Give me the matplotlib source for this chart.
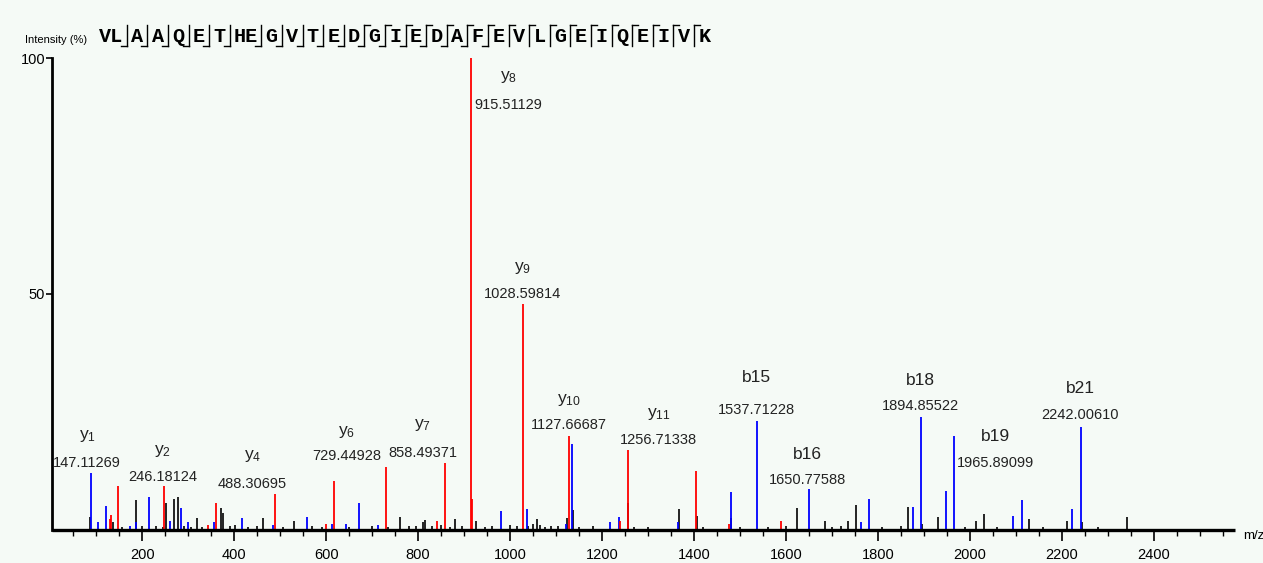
import matplotlib
matplotlib.use('Agg')
import matplotlib.pyplot as plt
from matplotlib.lines import Line2D
from matplotlib.ticker import MultipleLocator

plt.rcParams['font.family'] = ['Liberation Sans', 'DejaVu Sans']
plt.rcParams['mathtext.fontset'] = 'custom'
plt.rcParams['mathtext.rm'] = 'Liberation Sans'
plt.rcParams['mathtext.it'] = 'Liberation Sans'

# --- data ---
y_mz = [130, 132, 147.11, 246.18, 343, 360, 488.31, 600, 618, 729.45, 841,
        858.49, 915.51, 918, 1028.60, 1127.67, 1240, 1256.71, 1404, 1476, 1589.6]
y_int = [2.2, 3.1, 9.2, 9.2, 1.0, 5.6, 7.5, 1.2, 10.2, 13.2, 1.9,
         14.2, 100, 6.5, 47.8, 19.9, 1.9, 16.9, 12.5, 1.2, 1.7]

b_mz = [87.6, 104, 121, 173, 187, 214.5, 260, 284, 300, 356, 417, 484, 558,
        613, 642.5, 671.5, 713, 980, 1036, 1121, 1135, 1218, 1238, 1365, 1480,
        1537.71, 1650.78, 1763, 1780, 1876, 1894.86, 1948, 1965.89, 2095, 2114,
        2223, 2242.01]
b_int = [11.9, 1.5, 5.0, 0.8, 1.5, 6.8, 1.9, 4.5, 1.5, 1.5, 2.5, 1.0, 2.6,
         1.2, 1.2, 5.6, 1.0, 4.0, 4.3, 1.2, 18.2, 1.5, 2.6, 1.5, 7.9,
         23.1, 8.5, 1.5, 6.5, 4.8, 23.8, 8.2, 19.9, 2.9, 6.3,
         4.3, 21.8]

other_mz = [86, 137, 155, 186, 200, 230, 245, 251.5, 269, 277.6, 290, 305, 318,
            330, 371, 376, 390, 402, 430, 450, 463, 505, 530, 570, 590, 650,
            700, 735, 760.6, 780, 795, 810, 815, 830, 850, 870, 880, 895, 926,
            945, 960, 1000, 1015, 1040, 1049, 1058, 1065, 1075, 1090, 1105,
            1123, 1136, 1150, 1180, 1257.5, 1270, 1300, 1367, 1406, 1420, 1481,
            1500, 1560, 1600, 1624, 1685, 1700, 1720, 1735, 1753, 1810, 1850,
            1866.6, 1896.5, 1930, 1990, 2013, 2031, 2060, 2129, 2160, 2212,
            2245, 2280, 2342]
other_int = [2.6, 1.5, 0.6, 6.3, 0.8, 0.8, 0.6, 5.6, 6.5, 6.8, 0.8, 0.6, 2.5,
             0.5, 4.5, 3.4, 0.7, 1.0, 0.6, 0.8, 2.5, 0.6, 1.9, 0.8, 0.6, 0.6,
             0.7, 0.6, 2.6, 0.8, 0.7, 1.6, 2.0, 0.8, 1.0, 0.6, 2.2, 0.8, 1.9,
             0.6, 0.8, 1.0, 0.7, 0.8, 1.2, 2.2, 0.9, 0.6, 0.7, 0.8,
             2.5, 4.1, 0.6, 0.8, 5.6, 0.6, 0.5, 4.3, 2.9, 0.6, 2.5,
             0.5, 0.6, 0.7, 4.5, 1.9, 0.6, 0.8, 1.9, 5.2, 0.5, 0.7,
             4.8, 1.2, 2.6, 0.5, 1.9, 3.2, 0.6, 2.2, 0.5, 1.9,
             1.5, 0.5, 2.6]

ion_names = ['$\\mathrm{y}_{1}$', '$\\mathrm{y}_{2}$', '$\\mathrm{y}_{4}$',
             '$\\mathrm{y}_{6}$', '$\\mathrm{y}_{7}$', '$\\mathrm{y}_{8}$',
             '$\\mathrm{y}_{9}$', '$\\mathrm{y}_{10}$', '$\\mathrm{y}_{11}$',
             'b15', 'b16', 'b18', 'b19', 'b21']
ion_mz_text = ['147.11269', '246.18124', '488.30695', '729.44928', '858.49371',
               '915.51129', '1028.59814', '1127.66687', '1256.71338',
               '1537.71228', '1650.77588', '1894.85522', '1965.89099', '2242.00610']
# label anchor (x in m/z, name line, value line in %)
label_x = [80, 244, 439, 645, 810, 996, 1028, 1128, 1323, 1537, 1647, 1893, 2057, 2240]
label_name_y = [19.9, 16.6, 15.7, 20.6, 22.2, 96.0, 55.5, 27.4, 24.6, 32.2, 15.9, 31.6, 19.7, 29.9]
label_val_y = [14.2, 11.1, 9.6, 15.7, 16.3, 90.1, 50.1, 22.2, 18.9, 25.3, 10.6, 26.3, 14.2, 24.3]

sequence_groups = ['VL', 'A', 'A', 'Q', 'E', 'T', 'HE', 'G', 'V', 'T', 'E', 'D',
                   'G', 'I', 'E', 'D', 'A', 'F', 'E', 'V', 'L', 'G', 'E', 'I',
                   'Q', 'E', 'I', 'V', 'K']
# fragment marks after each group (except last): b = bottom-left, y = top-right
b_marks = [True] * 18 + [False] * 10
y_marks = [False] * 11 + [True] * 17

W, H = 1263, 563
bg = '#f5faf6'
fig = plt.figure(figsize=(W / 100, H / 100), dpi=100, facecolor=bg)
ax = fig.add_axes([52 / W, 1 - 529.5 / H, 1183 / W, 471 / H], facecolor=bg)

ax.vlines(other_mz, 0, other_int, colors='black', linewidth=1.2)
ax.vlines(b_mz, 0, b_int, colors='#0000ff', linewidth=1.3)
ax.vlines(y_mz, 0, y_int, colors='#ff0000', linewidth=1.3)

for name, val, x, ny, vy in zip(ion_names, ion_mz_text, label_x, label_name_y, label_val_y):
    ax.text(x, ny, name, ha='center', va='center', fontsize=12.5, color='#222222')
    ax.text(x, vy, val, ha='center', va='center', fontsize=10.5, color='#222222')

ax.set_xlim(3.5, 2577)
ax.set_ylim(0, 100)
for s in ['top', 'right']:
    ax.spines[s].set_visible(False)
ax.spines['left'].set_linewidth(2.0)
ax.spines['bottom'].set_linewidth(2.4)
ax.spines['bottom'].set_capstyle('butt')

ax.xaxis.set_minor_locator(MultipleLocator(50))
ax.set_xticks(range(200, 2401, 200))
ax.tick_params(axis='x', which='major', direction='out', length=8, width=1.2,
               labelsize=10.5, pad=5)
ax.tick_params(axis='x', which='minor', direction='out', length=4, width=1.0)
ax.set_yticks([50, 100])
ax.tick_params(axis='y', direction='out', length=4, width=1.2, labelsize=10.5, pad=1)

fig.text(1243 / W, 1 - 536 / H, 'm/z', fontsize=9.5, va='center', ha='left')
fig.text(25 / W, 1 - 40 / H, 'Intensity (%)', fontsize=8, va='center', ha='left')

# peptide sequence header with fragment marks
char_w, sep_w = 11.0, 9.6
x = 100.0
top, bot = 25.0, 46.0
for i, grp in enumerate(sequence_groups):
    w = char_w * len(grp)
    fig.text((x + w / 2) / W, 1 - 36 / H, grp, fontsize=14.5, fontweight='bold',
             family='Liberation Mono', ha='center', va='center')
    x += w
    if i < len(sequence_groups) - 1:
        xs = x + sep_w / 2
        fig.add_artist(Line2D([xs / W, xs / W], [1 - top / H, 1 - bot / H],
                              color='black', linewidth=1.0))
        if b_marks[i]:
            fig.add_artist(Line2D([(xs - 6) / W, xs / W], [1 - bot / H, 1 - bot / H],
                                  color='black', linewidth=1.0))
        if y_marks[i]:
            fig.add_artist(Line2D([xs / W, (xs + 6) / W], [1 - top / H, 1 - top / H],
                                  color='black', linewidth=1.0))
        x += sep_w

fig.savefig('out.png', dpi=100, facecolor=bg)
